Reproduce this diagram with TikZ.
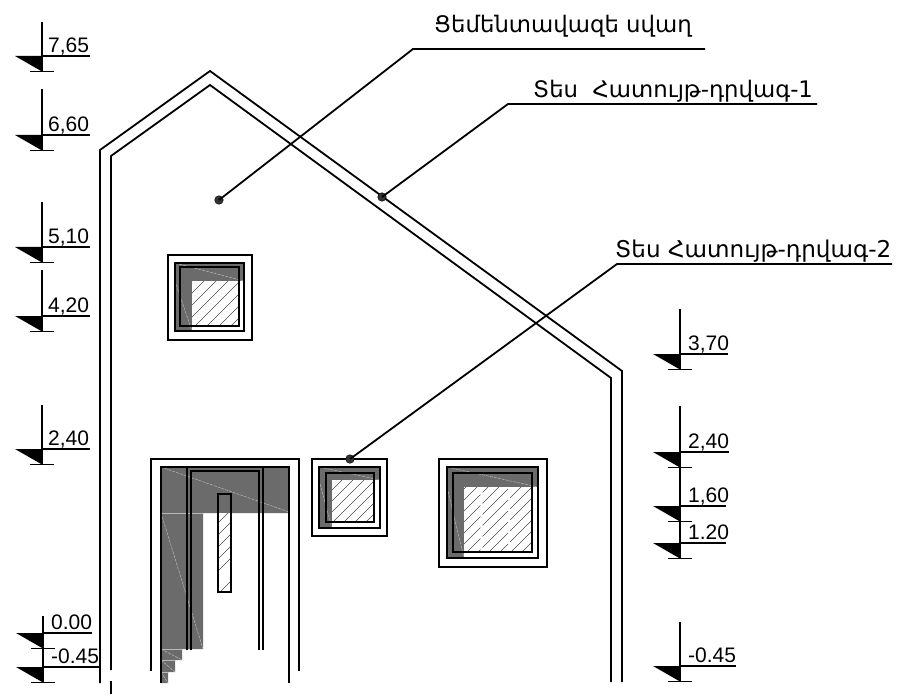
\documentclass[tikz,border=0pt]{standalone}
\usepackage{fontspec}
\setmainfont{Liberation Sans}
\newfontfamily\armfont{DejaVu Sans}
\usetikzlibrary{calc}
\definecolor{fillgray}{gray}{0.42}
\definecolor{seamgray}{gray}{0.72}
\tikzset{
  wall/.style={line width=1.8pt,line join=miter},
  thinframe/.style={line width=1.8pt},
  thickframe/.style={line width=2.5pt},
  shade/.style={fill=fillgray,draw=none},
  seam/.style={draw=seamgray,line width=0.5pt,dash pattern=on 3pt off 1pt},
  hatchline/.style={draw=black!70,line width=0.6pt},
  leader/.style={line width=1.8pt},
  lvlline/.style={line width=1.6pt},
  lvltxt/.style={font=\fontsize{21pt}{22pt}\selectfont,anchor=base west,inner sep=0pt},
  armtxt/.style={font=\armfont\fontsize{22.8pt}{24pt}\selectfont,anchor=base west,inner sep=0pt},
  dot/.style={circle,fill=black!80,draw=black,line width=0.5pt,inner sep=0pt,minimum size=8.5pt}
}
% #1 name, #2 stem x, #3 line y, #4 stem top y, #5 label, #6 underline end x, #7 text x
\newcommand{\levelmark}[7]{%
  \fill (#2-27,#3) -- (#2,#3) -- (#2,#3+15.5) -- cycle;
  \draw[lvlline] (#2,#4) -- (#2,#3+15.5);
  \draw[lvlline] (#2-12,#3+15.5) -- (#2+12,#3+15.5);
  \draw[lvlline] (#2,#3) -- (#6,#3);
  \node[lvltxt] (#1) at (#7,#3-3.8) {#5};
}
\begin{document}
\begin{tikzpicture}[x=1pt,y=-1pt]
\useasboundingbox (0,0) rectangle (897,695);
\fill[white] (0,0) rectangle (897,695);

% house walls
\draw[wall] (100,683) -- (100,150) -- (210,71) -- (622,371) -- (622,682);
\draw[wall] (111,670) -- (111,156) -- (210,85) -- (611,378) -- (611,682);
\draw[wall] (111,681) -- (111,694);

% door
\path[shade] (161,467) -- (289,467) -- (289,513) -- (203,513) -- (203,649) -- (182,649) -- (182,660) -- (175,660) -- (175,672) -- (168,672) -- (168,683) -- (161,683) -- cycle;
\draw[seam,solid] (161,513) -- (203,513);
\draw[seam] (161,467) -- (289,512);
\draw[seam] (161,513) -- (203,649);
\draw[seam,solid] (161,649) -- (182,649) (161,660) -- (175,660) (161,672) -- (168,672);
\draw[seam] (161,649) -- (182,660) (161,660) -- (175,672) (161,672) -- (168,683);
% door glazing
\fill[white] (218,513) rectangle (231,592);
\begin{scope}
\clip (218,513) rectangle (231,592);
\foreach \k in {525,537,549,561,573,596}{\draw[hatchline] (216,\k) -- (233,\k-17);}
\end{scope}
\draw[thinframe] (218,494) rectangle (231,592);
\draw[thinframe] (151,671) -- (151,459) -- (299,459) -- (299,671);
\draw[thinframe] (161,683) -- (161,467) -- (289,467) -- (289,683);
\draw[thickframe] (187,467) -- (187,650);
\draw[thickframe] (263,467) -- (263,650);
\draw[thinframe] (191,650) -- (191,471) -- (259,471) -- (259,650);

% window 1
\draw[thinframe] (168,255) rectangle (252,340);
\path[shade] (175,263) rectangle (244,281);
\path[shade] (175,263) rectangle (192,331);
\begin{scope}
\clip (192,281) rectangle (239,326);
\foreach \k in {0,12,...,120}{\draw[hatchline] (180,281+\k) -- (240,221+\k);}
\end{scope}
\draw[seam] (175,263) -- (244,281) (175,281) -- (192,331);
\draw[line width=2.2pt] (175,263) rectangle (244,331);
\draw[line width=1.5pt] (180,267) rectangle (239,326);

% window 2
\draw[thinframe] (312,459) rectangle (387,536);
\path[shade] (319,467) rectangle (380,480);
\path[shade] (319,467) rectangle (332,528);
\begin{scope}
\clip (332,480) rectangle (374,522);
\foreach \k in {0,11,...,110}{\draw[hatchline] (320,480+\k) -- (380,420+\k);}
\end{scope}
\draw[seam] (319,467) -- (380,480) (319,480) -- (332,528);
\draw[line width=1.6pt] (319,467) rectangle (380,528);
\draw[line width=2.5pt] (326,473) rectangle (374,522);

% window 3
\draw[thinframe] (439,459) rectangle (547,567);
\path[shade] (447,467) rectangle (538,487);
\path[shade] (447,467) rectangle (464,558);
\begin{scope}
\clip (464,487) rectangle (532,552);
\foreach \k in {0,11,...,170}{\draw[hatchline,dash pattern=on 36pt off 3pt] (455,487+\k) -- (535,407+\k);}
\end{scope}
\draw[seam] (447,467) -- (538,487) (447,487) -- (464,558);
\draw[line width=1.8pt] (447,467) rectangle (538,558);
\draw[line width=2.5pt] (453,473) rectangle (532,552);

% callouts
\node[dot] (d1) at (219,200) {};
\node[dot] (d2) at (382,197) {};
\node[dot] (d3) at (350,459) {};
\coordinate (k1) at (413,49); \coordinate (e1) at (705,49);
\coordinate (k2) at (508,104); \coordinate (e2) at (817,104);
\coordinate (k3) at (617,264); \coordinate (e3) at (892,264);
\draw[leader] (d1.center) -- (k1) -- (e1);
\draw[leader] (d2.center) -- (k2) -- (e2);
\draw[leader] (d3.center) -- (k3) -- (e3);
\node[armtxt] (t1) at (434,33) {Ցեմենտավազե սվաղ};
\node[armtxt] (t2) at (533,98) {Տես\ \ Հատույթ-դրվագ-1};
\node[armtxt,font=\armfont\fontsize{23.1pt}{24pt}\selectfont] (t3) at (615,258) {Տես Հատույթ-դրվագ-2};

% left levels
\levelmark{a1}{42}{56}{22}{7,65}{90}{48}
\levelmark{a2}{42}{135}{89}{6,60}{90}{48}
\levelmark{a3}{42}{247}{202}{5,10}{90}{48}
\levelmark{a4}{42}{316}{270}{4,20}{90}{48}
\levelmark{a5}{42}{449}{405}{2,40}{90}{48}
\levelmark{a6}{43}{633}{616}{0.00}{92}{51}
\levelmark{a7}{43}{667}{648}{-0.45}{100}{51}
% right levels
\levelmark{b1}{680}{354}{309}{3,70}{728}{688}
\levelmark{b2}{680}{452}{406}{2,40}{729}{688}
\levelmark{b3}{680}{506}{467}{1,60}{726}{688}
\levelmark{b4}{680}{543}{521}{1.20}{726}{688}
\levelmark{b5}{680}{666}{622}{-0.45}{736}{688}
\end{tikzpicture}
\end{document}
